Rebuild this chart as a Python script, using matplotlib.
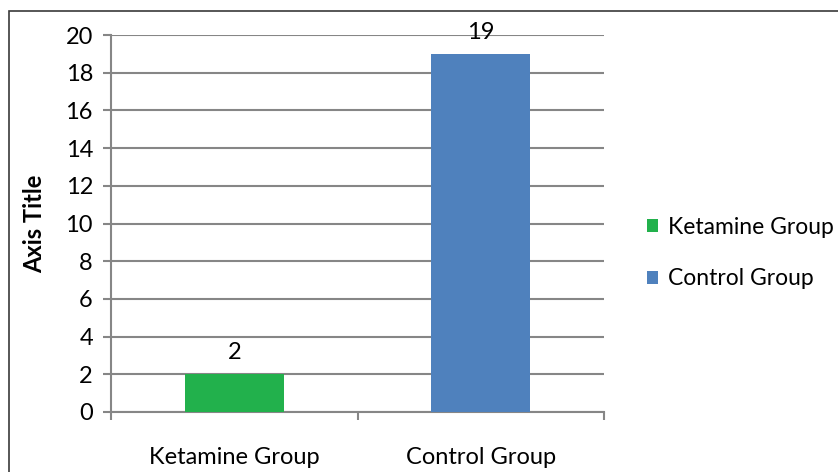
import matplotlib
matplotlib.use("Agg")
import matplotlib.pyplot as plt
from matplotlib.patches import Rectangle, Patch

categories = ["Ketamine Group", "Control Group"]
values = [2, 19]
colors = ["#22B14C", "#4F81BD"]
yticks = list(range(0, 21, 2))

plt.rcParams["font.family"] = ["Lato", "DejaVu Sans"]
FS = 17

fig = plt.figure(figsize=(8.38, 4.72), dpi=100)
ax = fig.add_axes([111 / 838, 1 - 412 / 472, (604 - 111) / 838, (412 - 35) / 472])

# outer chart border (Excel style, runs off the right/bottom edge)
fig.patches.append(Rectangle((9 / 838, -0.05), 1.2, 1 - 11 / 472 + 0.05,
                             transform=fig.transFigure, fill=False,
                             edgecolor="#3a3a3a", linewidth=1.2))

x = [0.5, 1.5]
bars = ax.bar(x, values, width=0.4, color=colors, zorder=3)
for xi, v in zip(x, values):
    ax.annotate(str(v), (xi, v), textcoords="offset points", xytext=(0, 8),
                ha="center", va="bottom", fontsize=FS, color="black")

ax.set_xlim(0, 2)
ax.set_ylim(0, 20)
ax.set_yticks(yticks)
ax.set_xticks([0, 1, 2])
ax.set_xticklabels([])
ax.set_xticks(x, minor=True)
ax.set_xticklabels(categories, minor=True, fontsize=FS)
ax.tick_params(axis="x", which="minor", length=0, pad=25)
ax.tick_params(axis="x", which="major", length=6, width=1.5, color="#868686", direction="out")
ax.tick_params(axis="y", length=6, width=1.5, color="#868686", labelsize=FS, pad=7)
ax.grid(axis="y", color="#868686", linewidth=1.5, zorder=0)
for side in ["top", "right"]:
    ax.spines[side].set_visible(False)
for side in ["left", "bottom"]:
    ax.spines[side].set_color("#868686")
    ax.spines[side].set_linewidth(1.5)
ax.set_ylabel("Axis Title", fontsize=FS, fontweight="bold", labelpad=14)

handles = [Patch(facecolor=c, label=l) for c, l in zip(colors, categories)]
fig.legend(handles=handles, loc="center left", bbox_to_anchor=(626 / 838, 1 - 253 / 472),
           frameon=False, fontsize=16.5, handlelength=0.5, handleheight=0.5,
           labelspacing=1.35, handletextpad=0.45)

fig.savefig("out.png", dpi=100)
